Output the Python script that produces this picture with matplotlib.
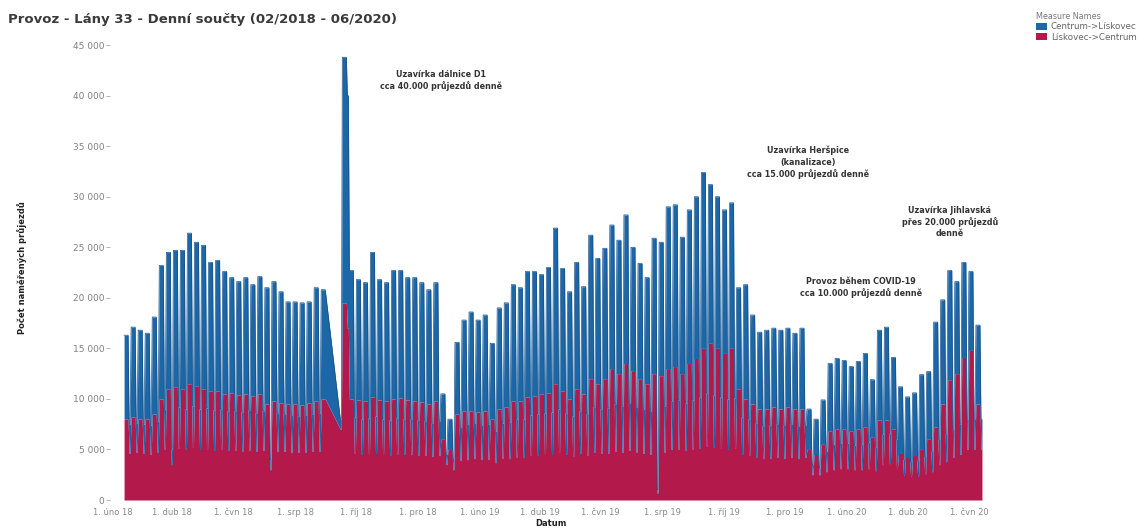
import datetime as dt
import numpy as np
import matplotlib
matplotlib.use('Agg')
import matplotlib.pyplot as plt
import matplotlib.dates as mdates
from matplotlib.patches import Patch
from matplotlib.ticker import FuncFormatter, MultipleLocator

nan = float('nan')

# first Monday of the series, one entry per week below
first_monday = dt.date(2018, 2, 12)

# Mon-Fri level of the stack top (both directions together)
week_top = [16300, 17100, 16800, 16500, 18100, 23200, 24500, 24700, 24700, 26400,
            25500, 25200, 23500, 23700, 22600, 22000, 21600, 22000, 21300, 22100,
            21000, 21600, 20600, 19600, 19600, 19500, 19600, 21000, 20800, nan,
            nan, 43800, 22700, 21800, 21500, 24500, 21800, 21500, 22700, 22700,
            22000, 22000, 21500, 20800, 21500, 10500, 8000, 15600, 17800, 18600,
            17800, 18300, 15500, 19000, 19500, 21300, 21000, 22600, 22600, 22300,
            23000, 26900, 22900, 20600, 23500, 21100, 26200, 23900, 24900, 27200,
            25700, 28200, 25000, 23400, 22000, 25900, 25500, 29000, 29200, 26000,
            28700, 30000, 32400, 31200, 30000, 28700, 29400, 21000, 21300, 18300,
            16600, 16800, 17000, 16800, 17000, 16500, 17000, 9000, 8000, 9900,
            13500, 14000, 13800, 13200, 13700, 14500, 11900, 16800, 17100, 14100,
            11200, 10200, 10600, 12400, 12700, 17600, 19800, 22700, 21600, 23500,
            22600, 17300]

# Mon-Fri level of Liskovec->Centrum (bottom layer)
week_red = [8000, 8200, 8000, 8000, 8500, 10000, 11000, 11200, 11000, 11500,
            11300, 11000, 10800, 10800, 10500, 10600, 10400, 10500, 10300, 10500,
            9500, 9800, 9600, 9500, 9500, 9400, 9600, 9800, 10000, nan,
            nan, 19500, 10000, 9900, 9800, 10200, 9900, 9800, 10000, 10100,
            9900, 9800, 9700, 9500, 9800, 6000, 5000, 8500, 8800, 8800,
            8700, 8800, 8000, 9000, 9200, 9800, 9800, 10200, 10300, 10500,
            10600, 11500, 10800, 10000, 11000, 10500, 12000, 11500, 12000, 13000,
            12500, 13500, 12800, 12000, 11500, 12500, 12300, 13000, 13200, 12500,
            13500, 14000, 15000, 15500, 15000, 14500, 15000, 11000, 10000, 9500,
            9000, 9000, 9200, 9000, 9200, 9000, 9000, 5000, 4500, 5500,
            6800, 7000, 7000, 6800, 7000, 7200, 6200, 7900, 7900, 7000,
            4600, 4200, 4400, 5000, 6000, 7200, 9500, 11900, 12500, 14100,
            14800, 9500]

# Sat-Sun level of the stack top
weekend_top = [7500, 7600, 7500, 7400, 7800, 9000, 5000, 9200, 9000, 9300,
               9000, 9100, 8900, 9000, 8800, 8800, 8700, 8900, 8600, 8800,
               4000, 8600, 8500, 8400, 8300, 8400, 8500, 8600, nan, nan,
               8000, 40000, 8200, 8000, 8100, 8300, 8000, 7900, 8100, 8000,
               8000, 7900, 7800, 7600, 7800, 4500, 4000, 7200, 7500, 7600,
               7400, 7500, 6800, 7600, 7700, 8000, 8000, 8400, 8500, 8600,
               8700, 9000, 8600, 8300, 8800, 8500, 9200, 9000, 9100, 9500,
               9300, 9600, 9200, 9000, 8800, 1000, 9300, 9800, 9900, 9600,
               9900, 10200, 10600, 10400, 10200, 10000, 10100, 8200, 8000, 7600,
               7300, 7400, 7500, 7400, 7500, 7300, 7400, 3500, 3200, 4800,
               5500, 5600, 5600, 5400, 5500, 5700, 5200, 6500, 6600, 6000,
               4000, 3800, 3900, 4300, 4800, 6000, 6500, 7000, 7500, 8000,
               8000, 8000]

# Sat-Sun level of Liskovec->Centrum
weekend_red = [4600, 4700, 4600, 4500, 4700, 5000, 3500, 5100, 5000, 5200,
               5000, 5000, 4900, 5000, 4900, 4900, 4800, 4900, 4800, 4900,
               3000, 4800, 4800, 4700, 4700, 4700, 4800, 4800, nan, nan,
               7000, 17000, 4600, 4500, 4500, 4600, 4500, 4400, 4500, 4500,
               4500, 4400, 4400, 4300, 4400, 3500, 3000, 3900, 4000, 4100,
               4000, 4000, 3700, 4100, 4100, 4200, 4200, 4400, 4400, 4500,
               4500, 4700, 4500, 4300, 4600, 4400, 4700, 4600, 4600, 4800,
               4700, 4900, 4700, 4600, 4500, 700, 4700, 5000, 5000, 4900,
               5000, 5100, 5300, 5200, 5100, 5000, 5100, 4500, 4400, 4200,
               4100, 4100, 4200, 4100, 4200, 4100, 4200, 2500, 2500, 2800,
               3000, 3100, 3100, 3000, 3000, 3100, 2900, 3500, 3600, 3200,
               2500, 2400, 2400, 2600, 2800, 3500, 3800, 4200, 4500, 5000,
               5000, 5000]

month_names = {2: 'úno', 4: 'dub', 6: 'čvn', 8: 'srp', 10: 'říj', 12: 'pro'}

BLUE = '#1c67a8'
BLUE_EDGE = '#174f86'
RED = '#b3194b'

# expand the weekly readings onto the daily axis, skipping days without data
days, top, red = [], [], []
for i in range(len(week_top)):
    monday = first_monday + dt.timedelta(weeks=i)
    for d in range(7):
        if d < 5:
            t, r = week_top[i], week_red[i]
        else:
            t, r = weekend_top[i], weekend_red[i]
        if np.isnan(t):
            continue
        days.append(monday + dt.timedelta(days=d))
        top.append(t)
        red.append(r)

W, H = 1141, 530
fig = plt.figure(figsize=(W / 100, H / 100), dpi=100)
ax = fig.add_axes([110 / W, 30 / H, 880 / W, 465 / H])

ax.fill_between(days, 0, red, color=RED, linewidth=0)
ax.fill_between(days, red, top, color=BLUE, linewidth=0)
ax.plot(days, top, color=BLUE_EDGE, linewidth=0.5)

ax.set_xlim(dt.date(2018, 1, 29), dt.date(2020, 6, 22))
ax.set_ylim(0, 46000)

for s in ax.spines.values():
    s.set_visible(False)

ax.yaxis.set_major_locator(MultipleLocator(5000))
ax.yaxis.set_major_formatter(FuncFormatter(lambda v, p: '{:,}'.format(int(v)).replace(',', ' ')))
ax.xaxis.set_major_locator(mdates.MonthLocator(bymonth=(2, 4, 6, 8, 10, 12)))
ax.xaxis.set_major_formatter(FuncFormatter(
    lambda v, p: '1. %s %s' % (month_names[mdates.num2date(v).month], mdates.num2date(v).strftime('%y'))))
ax.tick_params(axis='y', length=3, width=0.6, color='#aaaaaa', labelsize=6.5,
               labelcolor='#808080', pad=1)
ax.tick_params(axis='x', length=0, labelsize=6, labelcolor='#8a8a8a', pad=6)

fig.text(8 / W, 1 - 20 / H, 'Provoz - Lány 33 - Denní součty (02/2018 - 06/2020)',
         fontsize=9.5, fontweight='bold', color='#3a3a3a', va='center', ha='left')
fig.text(22 / W, 1 - 268 / H, 'Počet naměřených průjezdů', rotation=90,
         fontsize=6, fontweight='bold', color='#222222', va='center', ha='center')
fig.text(551 / W, 1 - 524 / H, 'Datum', fontsize=6, fontweight='bold',
         color='#222222', va='center', ha='center')

# event annotations
notes = [
    (dt.date(2018, 12, 24), 41500, 'Uzavírka dálnice D1\ncca 40.000 průjezdů denně'),
    (dt.date(2019, 12, 24), 33400, 'Uzavírka Heršpice\n(kanalizace)\ncca 15.000 průjezdů denně'),
    (dt.date(2020, 5, 13), 27500, 'Uzavírka Jihlavská\npřes 20.000 průjezdů\ndenně'),
    (dt.date(2020, 2, 15), 21000, 'Provoz během COVID-19\ncca 10.000 průjezdů denně'),
]
for x, y, s in notes:
    ax.text(x, y, s, ha='center', va='center', fontsize=5.8, fontweight='bold',
            color='#333333', linespacing=1.3)

handles = [Patch(facecolor=BLUE, edgecolor='none', label='Centrum->Lískovec'),
           Patch(facecolor=RED, edgecolor='none', label='Lískovec->Centrum')]
leg = fig.legend(handles=handles, loc='upper left', bbox_to_anchor=(1028 / W, 1 - 4 / H),
                 frameon=False, title='Measure Names', fontsize=6.3, title_fontsize=5.8,
                 handlelength=1.3, handleheight=0.9, handletextpad=0.4,
                 labelspacing=0.15, alignment='left')
for t in leg.get_texts():
    t.set_color('#666666')
leg.get_title().set_color('#777777')

fig.savefig('out.png', dpi=100)
